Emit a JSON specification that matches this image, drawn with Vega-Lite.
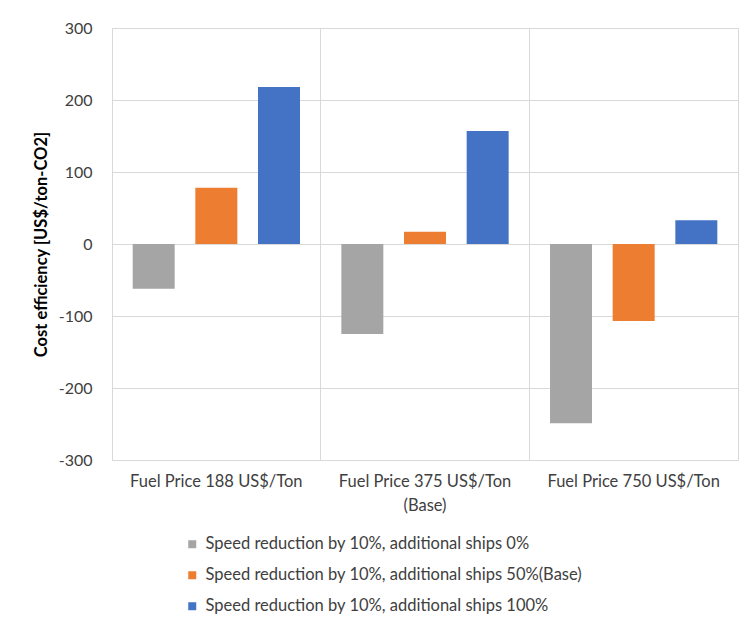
{
  "$schema": "https://vega.github.io/schema/vega-lite/v6.json",
  "width": 626,
  "height": 432,
  "autosize": {"type": "none"},
  "padding": {"left": 112, "top": 28, "right": 8, "bottom": 170},
  "background": "white",
  "config": {
    "font": "Lato",
    "view": {"stroke": "#D9D9D9", "strokeWidth": 1}
  },
  "data": {
    "values": [
      {"category": "Fuel Price 188 US$/Ton", "series": "Speed reduction by 10%, additional ships 0%", "value": -62},
      {"category": "Fuel Price 188 US$/Ton", "series": "Speed reduction by 10%, additional ships 50%(Base)", "value": 78},
      {"category": "Fuel Price 188 US$/Ton", "series": "Speed reduction by 10%, additional ships 100%", "value": 218},
      {"category": "Fuel Price 375 US$/Ton (Base)", "series": "Speed reduction by 10%, additional ships 0%", "value": -125},
      {"category": "Fuel Price 375 US$/Ton (Base)", "series": "Speed reduction by 10%, additional ships 50%(Base)", "value": 17},
      {"category": "Fuel Price 375 US$/Ton (Base)", "series": "Speed reduction by 10%, additional ships 100%", "value": 157},
      {"category": "Fuel Price 750 US$/Ton", "series": "Speed reduction by 10%, additional ships 0%", "value": -249},
      {"category": "Fuel Price 750 US$/Ton", "series": "Speed reduction by 10%, additional ships 50%(Base)", "value": -107},
      {"category": "Fuel Price 750 US$/Ton", "series": "Speed reduction by 10%, additional ships 100%", "value": 33}
    ]
  },
  "mark": {"type": "bar"},
  "encoding": {
    "x": {
      "field": "category",
      "type": "nominal",
      "sort": null,
      "scale": {"paddingInner": 0, "paddingOuter": 0},
      "axis": {
        "title": null,
        "labelAngle": 0,
        "bandPosition": 0,
        "ticks": false,
        "tickSize": 0,
        "domain": false,
        "grid": true,
        "gridColor": "#D9D9D9",
        "labelFont": "Lato",
        "labelFontSize": 16.5,
        "labelColor": "#404040",
        "labelPadding": 13,
        "labelLineHeight": 24,
        "labelBaseline": "top",
        "labelExpr": "datum.value == 'Fuel Price 375 US$/Ton (Base)' ? ['Fuel Price 375 US$/Ton', '(Base)'] : datum.value"
      }
    },
    "xOffset": {
      "field": "series",
      "type": "nominal",
      "sort": null,
      "scale": {"paddingInner": 0.33, "paddingOuter": 0.33}
    },
    "y": {
      "field": "value",
      "type": "quantitative",
      "scale": {"domain": [-300, 300], "nice": false},
      "axis": {
        "title": "Cost efficiency [US$/ton-CO2]",
        "titleFont": "Lato",
        "titleFontSize": 16.5,
        "titleFontWeight": "bold",
        "titleColor": "#000000",
        "titlePadding": 9,
        "values": [-300, -200, -100, 0, 100, 200, 300],
        "labelExpr": "'' + datum.value",
        "ticks": false,
        "tickSize": 0,
        "domain": false,
        "grid": true,
        "gridColor": "#D9D9D9",
        "labelFont": "Lato",
        "labelFontSize": 16,
        "labelColor": "#404040",
        "labelPadding": 20
      }
    },
    "color": {
      "field": "series",
      "type": "nominal",
      "sort": null,
      "scale": {
        "domain": [
          "Speed reduction by 10%, additional ships 0%",
          "Speed reduction by 10%, additional ships 50%(Base)",
          "Speed reduction by 10%, additional ships 100%"
        ],
        "range": ["#A5A5A5", "#ED7D31", "#4472C4"]
      },
      "legend": {
        "title": null,
        "orient": "none",
        "legendX": 72,
        "legendY": 508,
        "direction": "vertical",
        "symbolType": "square",
        "symbolSize": 64,
        "symbolStrokeWidth": 0,
        "symbolOpacity": 1,
        "labelFont": "Lato",
        "labelFontSize": 16.5,
        "labelColor": "#404040",
        "labelOffset": 5,
        "labelLimit": 500,
        "rowPadding": 14
      }
    }
  }
}
